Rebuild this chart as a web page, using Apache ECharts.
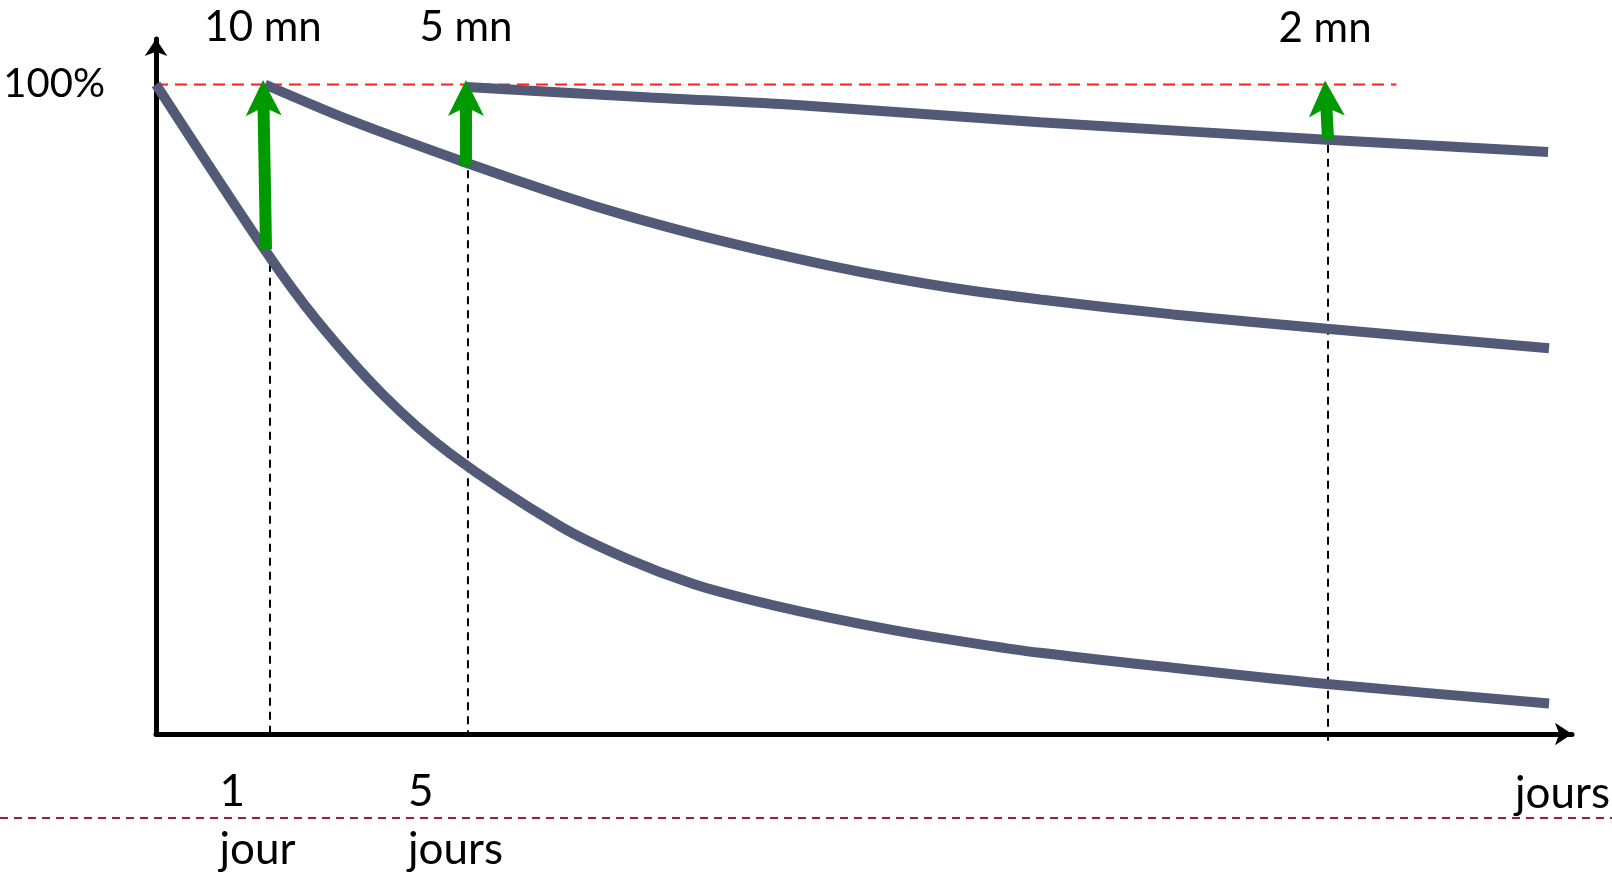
<!DOCTYPE html>
<html>
<head>
<meta charset="utf-8">
<style>
  html, body { margin: 0; padding: 0; background: #ffffff; }
  #chart { width: 1612px; height: 875px; }
</style>
<script src="https://cdn.jsdelivr.net/npm/echarts@6/dist/echarts.min.js"></script>
</head>
<body>
<div id="chart"></div>
<script>
// ---- data (x: relative time scale 0..100, y: percent retained) ----
var curve1X = [0, 7.70, 11.35, 16.05, 20.76, 28.53, 33.24, 37.95, 42.66, 47.37, 52.07, 56.78, 62.43, 71.82, 82.68, 98.38];
var curve1Y = [100, 74.5, 63.7, 52.2, 43.2, 32.0, 27.0, 23.1, 20.3, 18.0, 16.0, 14.3, 12.5, 10.2, 7.7, 4.7];

var curve2X = [7.70, 13.70, 21.70, 28.53, 33.24, 37.95, 42.66, 47.37, 52.07, 56.78, 62.43, 71.82, 82.68, 98.38];
var curve2Y = [100, 94.5, 88.1, 83.0, 79.8, 77.0, 74.5, 72.2, 70.2, 68.5, 66.9, 64.6, 62.4, 59.4];

var curve3X = [21.94, 34.89, 45.48, 62.43, 82.68, 98.31];
var curve3Y = [99.6, 98.0, 96.8, 94.2, 91.5, 89.6];

// review arrows: from point on curve up to 100 %
var arrowBaseX = [7.77, 21.89, 82.77];
var arrowBaseY = [74.6, 87.4, 91.5];
var arrowTipX  = [7.56, 21.89, 82.56];
var arrowTipY  = [100.7, 100.7, 100.6];
var arrowLabels = ['10 mn', '5 mn', '2 mn'];

// vertical guides
var guideX = [8.05, 22.03, 82.77];
var guideTop = [72.4, 86.8, 90.7];
var guideBottom = [0, 0, -1.4];

// 100 % reference line
var refLineX = [0, 87.6];
var refLineY = [100, 100];

// axis labels
var dayTicks = [8.05, 22.03];
var dayLabels = ['1\njour', '5\njours'];
var yTicks = [100];
var xAxisName = 'jours';

function pairs(xs, ys) { return xs.map(function (x, i) { return [x, ys[i]]; }); }

var FONT = 'Lato, "Open Sans", sans-serif';
var CURVE = '#525a78';

var series = [];

series.push({
  type: 'line', data: pairs(refLineX, refLineY), symbol: 'none', silent: true, z: 1,
  lineStyle: { color: '#ff1f1f', width: 2, type: [12, 7] }
});

guideX.forEach(function (x, i) {
  series.push({
    type: 'line', data: [[x, guideTop[i]], [x, guideBottom[i]]], symbol: 'none', silent: true,
    clip: false, z: 1,
    lineStyle: { color: '#000', width: 2, type: [8, 6] }
  });
});

[[curve1X, curve1Y], [curve2X, curve2Y], [curve3X, curve3Y]].forEach(function (c) {
  series.push({
    type: 'line', data: pairs(c[0], c[1]), symbol: 'none', smooth: 0.3,
    silent: true, z: 3,
    lineStyle: { color: CURVE, width: 10, cap: 'butt' }
  });
});

series.push({
  type: 'custom', z: 5, silent: true, clip: false,
  data: arrowBaseX.map(function (x, i) { return [x, arrowBaseY[i], arrowTipX[i], arrowTipY[i]]; }),
  renderItem: function (params, api) {
    var p0 = api.coord([api.value(0), api.value(1)]);
    var p1 = api.coord([api.value(2), api.value(3)]);
    var dx = p1[0] - p0[0], dy = p1[1] - p0[1];
    var L = Math.sqrt(dx * dx + dy * dy);
    var ux = dx / L, uy = dy / L, nx = -uy, ny = ux;
    var head = 36, hw = 18, notch = 9, sw = 6;
    var bx = p1[0] - ux * head, by = p1[1] - uy * head;
    var qx = p1[0] - ux * (head - notch), qy = p1[1] - uy * (head - notch);
    var green = '#009900';
    return {
      type: 'group',
      children: [
        { type: 'polygon', shape: { points: [
            [p0[0] + nx * sw, p0[1] + ny * sw], [qx + nx * sw, qy + ny * sw],
            [qx - nx * sw, qy - ny * sw], [p0[0] - nx * sw, p0[1] - ny * sw]] },
          style: { fill: green } },
        { type: 'polygon', shape: { points: [
            [p1[0], p1[1]], [bx + nx * hw, by + ny * hw], [qx, qy], [bx - nx * hw, by - ny * hw]] },
          style: { fill: green } },
        { type: 'text', style: {
            text: arrowLabels[params.dataIndex], x: p1[0], y: p1[1] - 52,
            align: 'center', verticalAlign: 'middle',
            fontSize: 42, fontFamily: FONT, fill: '#000' } }
      ]
    };
  }
});

var chart = echarts.init(document.getElementById('chart'), null, { renderer: 'canvas' });
chart.setOption({
  backgroundColor: '#ffffff',
  animation: false,
  grid: { left: 156, right: 40, top: 39, bottom: 141, outerBoundsMode: 'none', containLabel: false },
  xAxis: {
    type: 'value', min: 0, max: 100,
    name: xAxisName, nameLocation: 'end', nameGap: 38,
    nameTextStyle: { fontSize: 44, fontFamily: FONT, color: '#000', align: 'right', verticalAlign: 'top', lineHeight: 44, padding: [38, 0, 0, 0] },
    axisLine: { show: true, lineStyle: { color: '#000', width: 5 }, symbol: ['none', 'arrow'], symbolSize: [17, 17] },
    axisTick: { show: false },
    splitLine: { show: false },
    axisLabel: {
      customValues: dayTicks,
      formatter: function (v) {
        var i = dayTicks.indexOf(v);
        if (i < 0) return '';
        return dayLabels[i].split('\n').map(function (s) { return '{a|' + s + '}'; }).join('\n');
      },
      margin: 29,
      padding: [0, 25, 0, 0],
      rich: { a: { fontSize: 44, fontFamily: FONT, color: '#000', lineHeight: 58, align: 'left' } }
    }
  },
  yAxis: {
    type: 'value', min: 0, max: 107,
    axisLine: { show: true, lineStyle: { color: '#000', width: 5 }, symbol: ['none', 'arrow'], symbolSize: [17, 17] },
    axisTick: { show: false },
    splitLine: { show: false },
    axisLabel: {
      customValues: yTicks,
      formatter: '{value}%',
      margin: 51,
      fontSize: 40, fontFamily: FONT, color: '#000',
      padding: [0, 0, 15, 0]
    }
  },
  graphic: [{
    type: 'line', silent: true, z: 0,
    shape: { x1: 0, y1: 818, x2: 1612, y2: 818 },
    style: { stroke: '#a5174a', lineWidth: 2, lineDash: [8, 6] }
  }],
  series: series
});
</script>
</body>
</html>
